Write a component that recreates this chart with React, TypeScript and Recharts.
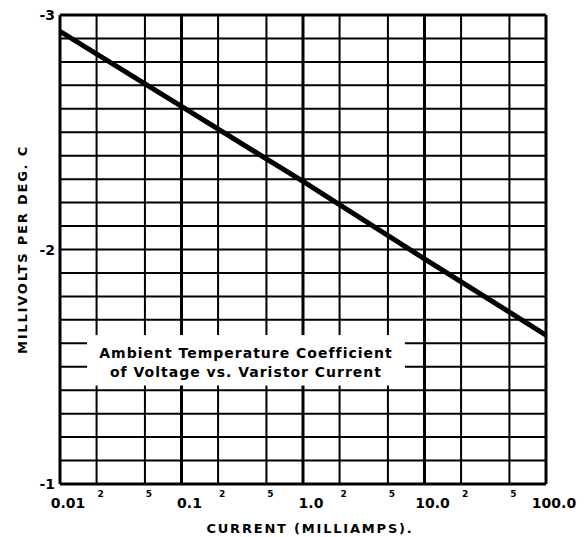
import React from 'react';
import { LineChart, Line, XAxis, YAxis, CartesianGrid, ReferenceLine, ReferenceArea, Label } from 'recharts';

const currentMa = [0.01, 0.1, 1, 10, 100];
const mvPerDegC = [-2.93, -2.61, -2.29, -1.96, -1.635];

const xTicks = [0.01, 0.02, 0.05, 0.1, 0.2, 0.5, 1, 2, 5, 10, 20, 50, 100];
const xTickLabels = ['0.01', '2', '5', '0.1', '2', '5', '1.0', '2', '5', '10.0', '2', '5', '100.0'];
const yTicks = [-3, -2.9, -2.8, -2.7, -2.6, -2.5, -2.4, -2.3, -2.2, -2.1, -2, -1.9, -1.8, -1.7, -1.6, -1.5, -1.4, -1.3, -1.2, -1.1, -1];
const yLabeledTicks = [-3, -2, -1];
const decadeLines = [0.1, 1, 10];
const titleLines = ['Ambient Temperature Coefficient', 'of Voltage vs. Varistor Current'];
const titleBoxX = [0.0167, 6.9];
const titleBoxY = [-1.635, -1.42];

const data = currentMa.map((c, i) => ({ current: c, mv: mvPerDegC[i] }));

const FONT = '"DejaVu Sans", sans-serif';

const XTick = (props: any) => {
  const { x, y, payload, index } = props;
  const label = xTickLabels[index] ?? String(payload.value);
  const major = label.length > 1;
  if (major) {
    return (
      <text x={x + 8} y={y + 24} textAnchor="middle" fontFamily={FONT} fontWeight="bold" fontSize={14} fill="#000">
        {label}
      </text>
    );
  }
  return (
    <text x={x + 4} y={y + 13} textAnchor="middle" fontFamily={FONT} fontWeight="bold" fontSize={9} fill="#000">
      {label}
    </text>
  );
};

const YTick = (props: any) => {
  const { x, y, payload } = props;
  const v = payload.value;
  if (!yLabeledTicks.some((t) => Math.abs(t - v) < 1e-6)) return null;
  return (
    <text x={x - 5} y={y + 5} textAnchor="end" fontFamily={FONT} fontWeight="bold" fontSize={14} fill="#000">
      {String(Math.round(v))}
    </text>
  );
};

const TitleBox = (props: any) => {
  const { x, y, width, height } = props;
  const cx = x + width / 2;
  return (
    <g>
      <rect x={x} y={y} width={width} height={height} fill="#fff" />
      {titleLines.map((t, i) => (
        <text
          key={i}
          x={cx}
          y={y + 23 + i * 19}
          textAnchor="middle"
          fontFamily={FONT}
          fontWeight="bold"
          fontSize={14}
          letterSpacing={1}
          fill="#000"
        >
          {t}
        </text>
      ))}
    </g>
  );
};

const YLabel = (props: any) => {
  const vb = props.viewBox || { x: 0, y: 15, width: 60, height: 469 };
  const cx = vb.x + 22;
  const cy = vb.y + vb.height / 2;
  return (
    <text
      x={cx}
      y={cy}
      transform={`rotate(-90, ${cx}, ${cy})`}
      textAnchor="middle"
      dominantBaseline="central"
      fontFamily={FONT}
      fontWeight="bold"
      fontSize={13}
      letterSpacing={1.8}
      fill="#000"
    >
      MILLIVOLTS PER DEG. C
    </text>
  );
};

const XLabel = (props: any) => {
  const vb = props.viewBox || { x: 60, y: 484, width: 486, height: 53 };
  const cx = vb.x + vb.width / 2 + 7;
  return (
    <text x={cx} y={vb.y + 49} textAnchor="middle" fontFamily={FONT} fontWeight="bold" fontSize={13} letterSpacing={1.8} fill="#000">
      CURRENT (MILLIAMPS).
    </text>
  );
};

export default function App() {
  return (
    <div style={{ position: 'absolute', left: 0, top: 0, width: 585, height: 537, background: '#fff' }}>
      <LineChart width={585} height={537} data={data} margin={{ top: 15, right: 39, bottom: 0, left: 0 }}>
        <CartesianGrid stroke="#000" strokeWidth={2} />
        <XAxis
          dataKey="current"
          type="number"
          scale="log"
          domain={[0.01, 100]}
          allowDataOverflow
          ticks={xTicks}
          interval={0}
          tickLine={false}
          axisLine={false}
          tickSize={0}
          tickMargin={0}
          height={53}
          tick={<XTick />}
        >
          <Label content={<XLabel />} />
        </XAxis>
        <YAxis
          type="number"
          domain={[-3, -1]}
          reversed
          ticks={yTicks}
          interval={0}
          tickLine={false}
          axisLine={false}
          tickSize={0}
          tickMargin={0}
          width={60}
          tick={<YTick />}
        >
          <Label content={<YLabel />} />
        </YAxis>
        {decadeLines.map((d) => (
          <ReferenceLine key={d} x={d} stroke="#000" strokeWidth={3} />
        ))}
        <ReferenceLine x={0.01} stroke="#000" strokeWidth={3} />
        <ReferenceLine x={100} stroke="#000" strokeWidth={3} />
        <ReferenceLine y={-3} stroke="#000" strokeWidth={3} />
        <ReferenceLine y={-1} stroke="#000" strokeWidth={3} />
        <ReferenceArea
          x1={titleBoxX[0]}
          x2={titleBoxX[1]}
          y1={titleBoxY[0]}
          y2={titleBoxY[1]}
          shape={<TitleBox />}
          zIndex={500}
        />
        <Line dataKey="mv" type="linear" stroke="#000" strokeWidth={5} dot={false} isAnimationActive={false} />
      </LineChart>
    </div>
  );
}
